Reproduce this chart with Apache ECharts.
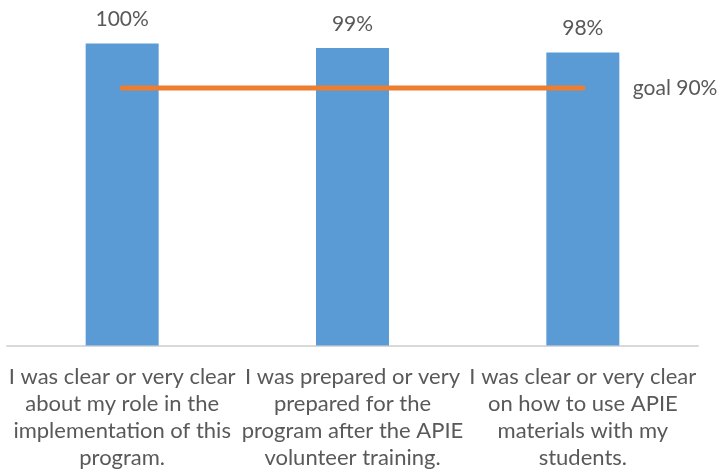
<!DOCTYPE html>
<html>
<head>
<meta charset="utf-8">
<script src="https://cdn.jsdelivr.net/npm/echarts@6/dist/echarts.min.js"></script>
<style>
html,body{margin:0;padding:0;background:#fff;}
#chart{width:726px;height:476px;}
</style>
</head>
<body>
<div id="chart"></div>
<script>
var categories = [
  "I was clear or very clear\nabout my role in the\nimplementation of this\nprogram.",
  "I was prepared or very\nprepared for the\nprogram after the APIE\nvolunteer training.",
  "I was clear or very clear\non how to use APIE\nmaterials with my\nstudents."
];
var values = [100, 99, 98];
var goalValues = [90, 90, 90];
var goalLabel = "goal 90%";

var FONT = "Lato";
var chart = echarts.init(document.getElementById('chart'), null, {renderer: 'canvas'});
chart.setOption({
  animation: false,
  backgroundColor: '#ffffff',
  grid: {left: 7, right: 28, top: 8, bottom: 130.5, containLabel: false},
  xAxis: {
    type: 'category',
    data: categories,
    boundaryGap: true,
    axisLine: {show: true, lineStyle: {color: '#d9d9d9', width: 2}},
    axisTick: {show: false},
    axisLabel: {
      interval: 0,
      margin: 18,
      color: '#595959',
      fontFamily: FONT,
      fontSize: 22,
      lineHeight: 27,
      align: 'center'
    }
  },
  yAxis: {
    type: 'value',
    min: 32,
    max: 108,
    show: false,
    splitLine: {show: false}
  },
  series: [
    {
      type: 'bar',
      data: values,
      barWidth: 73,
      itemStyle: {color: '#5B9BD5'},
      label: {
        show: true,
        position: 'top',
        distance: 13,
        formatter: '{c}%',
        color: '#595959',
        fontFamily: FONT,
        fontSize: 21,
        lineHeight: 22
      }
    },
    {
      type: 'line',
      data: goalValues,
      symbol: 'none',
      lineStyle: {color: '#ED7D31', width: 5, cap: 'round'},
      itemStyle: {color: '#ED7D31'},
      endLabel: {
        show: true,
        formatter: goalLabel,
        distance: 50,
        color: '#595959',
        fontFamily: FONT,
        fontSize: 21
      },
      z: 3
    }
  ]
});
</script>
</body>
</html>
